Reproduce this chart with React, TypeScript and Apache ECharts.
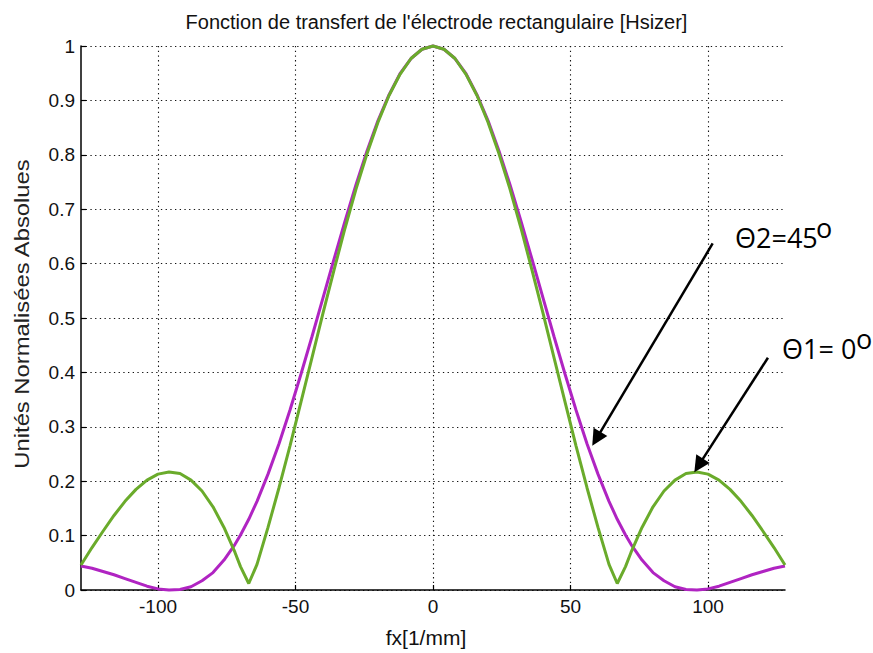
import { useEffect, useRef } from "react";
import * as echarts from "echarts";

const chartTitle = "Fonction de transfert de l'électrode rectangulaire [Hsizer]";
const xAxisTitle = "fx[1/mm]";
const yAxisTitle = "Unités Normalisées Absolues";

// spatial frequency samples [1/mm]
const fx = [
  -128, -124, -120, -116, -112, -108, -104, -100, -96, -92, -88, -84, -80, -76, -72, -70, -67,
  -64, -60, -56, -52, -48, -44, -40, -36, -32, -28, -24, -20, -16, -12, -8, -4,
  0,
  4, 8, 12, 16, 20, 24, 28, 32, 36, 40, 44, 48, 52, 56, 60, 64,
  67, 70, 72, 76, 80, 84, 88, 92, 96, 100, 104, 108, 112, 116, 120, 124, 128,
];

// |H| for theta1 = 0 deg (green)
const hTheta1 = [
  0.046, 0.078, 0.108, 0.137, 0.163, 0.185, 0.202, 0.213, 0.217, 0.214, 0.202, 0.182, 0.153, 0.115, 0.069, 0.043, 0.012,
  0.047, 0.115, 0.188, 0.265, 0.346, 0.427, 0.509, 0.588, 0.665, 0.737, 0.802, 0.86, 0.909, 0.948, 0.977, 0.994,
  1.0,
  0.994, 0.977, 0.948, 0.909, 0.86, 0.802, 0.737, 0.665, 0.588, 0.509, 0.427, 0.346, 0.265, 0.188, 0.115, 0.047,
  0.012, 0.043, 0.069, 0.115, 0.153, 0.182, 0.202, 0.214, 0.217, 0.213, 0.202, 0.185, 0.163, 0.137, 0.108, 0.078, 0.046,
];

// |H| for theta2 = 45 deg (purple)
const hTheta2 = [
  0.044, 0.04, 0.034, 0.028, 0.021, 0.014, 0.007, 0.002, 0.0, 0.001, 0.006, 0.017, 0.032, 0.055, 0.084, 0.101, 0.13,
  0.163, 0.213, 0.269, 0.331, 0.397, 0.466, 0.537, 0.608, 0.678, 0.745, 0.807, 0.863, 0.91, 0.949, 0.977, 0.994,
  1.0,
  0.994, 0.977, 0.949, 0.91, 0.863, 0.807, 0.745, 0.678, 0.608, 0.537, 0.466, 0.397, 0.331, 0.269, 0.213, 0.163,
  0.13, 0.101, 0.084, 0.055, 0.032, 0.017, 0.006, 0.001, 0.0, 0.002, 0.007, 0.014, 0.021, 0.028, 0.034, 0.04, 0.044,
];

const xTicks = [-100, -50, 0, 50, 100];
const xMin = -128;
const xMax = 128;
const yMin = 0;
const yMax = 1;
const yStep = 0.1;

// annotation arrows in data coordinates: [start, tip]
const arrowTheta2 = [[101.7, 0.637], [59.4, 0.278]];
const arrowTheta1 = [[121.8, 0.427], [96.6, 0.229]];

const labelTheta2 = "Θ2=45";
const labelTheta1 = "Θ1= 0";
const degreeMark = "o";

const PURPLE = "#b024c2";
const GREEN = "#6aab2b";
const SANS = "'Liberation Sans', Arial, sans-serif";
const CALLOUT = "'Open Sans', 'Noto Sans', sans-serif";

export default function App() {
  const ref = useRef<HTMLDivElement>(null);

  useEffect(() => {
    if (!ref.current) return;
    const chart = echarts.init(ref.current, undefined, { renderer: "svg" });

    const gridLine = { color: "#111", type: [1.3, 3.4], width: 1.1 };

    chart.setOption({
      animation: false,
      backgroundColor: "#ffffff",
      textStyle: { fontFamily: SANS },
      title: {
        text: chartTitle,
        left: "center",
        top: 12,
        padding: [0, 7, 0, 0],
        textStyle: { fontSize: 20, fontWeight: "normal", color: "#111", fontFamily: SANS },
      },
      grid: { left: 81, right: 88, top: 46, bottom: 59 },
      xAxis: {
        type: "value",
        min: xMin,
        max: xMax,
        name: xAxisTitle,
        nameLocation: "middle",
        nameGap: 37,
        nameTextStyle: { fontSize: 21, color: "#111", fontFamily: SANS, padding: [0, 14, 0, 0] },
        axisLine: { show: true, onZero: false, lineStyle: { color: "#000", width: 1.5 } },
        axisTick: { show: true, inside: true, length: 5, customValues: xTicks, lineStyle: { color: "#000", width: 1.2 } },
        axisLabel: { show: true, customValues: xTicks, margin: 7, fontSize: 19, color: "#111", fontFamily: SANS },
        splitLine: { show: true, lineStyle: gridLine },
      },
      yAxis: {
        type: "value",
        min: yMin,
        max: yMax,
        interval: yStep,
        axisLine: { show: true, onZero: false, lineStyle: { color: "#000", width: 1.5 } },
        axisTick: { show: true, inside: true, length: 5, lineStyle: { color: "#000", width: 1.2 } },
        axisLabel: { show: true, margin: 6, fontSize: 19, color: "#111", fontFamily: SANS },
        splitLine: { show: true, lineStyle: gridLine },
      },
      graphic: [
        {
          type: "text",
          x: 22,
          y: 314,
          rotation: Math.PI / 2,
          scaleX: 1.19,
          style: { text: yAxisTitle, font: `20px ${SANS}`, fill: "#222", align: "center", verticalAlign: "middle" },
        },
        {
          type: "text",
          x: 735,
          y: 237,
          style: { text: labelTheta2, font: `27px ${CALLOUT}`, fill: "#000", align: "left", verticalAlign: "middle" },
        },
        {
          type: "text",
          x: 816,
          y: 227,
          style: { text: degreeMark, font: `27px ${CALLOUT}`, fill: "#000", align: "left", verticalAlign: "middle" },
        },
        {
          type: "text",
          x: 782,
          y: 348,
          style: { text: labelTheta1, font: `27px ${CALLOUT}`, fill: "#000", align: "left", verticalAlign: "middle" },
        },
        {
          type: "text",
          x: 856,
          y: 338,
          style: { text: degreeMark, font: `27px ${CALLOUT}`, fill: "#000", align: "left", verticalAlign: "middle" },
        },
      ],
      series: [
        {
          type: "line",
          name: "θ2 = 45°",
          data: fx.map((x, i) => [x, hTheta2[i]]),
          symbol: "none",
          showSymbol: false,
          clip: false,
          lineStyle: { color: PURPLE, width: 3 },
          z: 2,
        },
        {
          type: "line",
          name: "θ1 = 0°",
          data: fx.map((x, i) => [x, hTheta1[i]]),
          symbol: "none",
          showSymbol: false,
          clip: false,
          lineStyle: { color: GREEN, width: 3 },
          z: 3,
          markLine: {
            silent: true,
            symbol: ["none", "triangle"],
            symbolSize: 16,
            label: { show: false },
            emphasis: { disabled: true },
            itemStyle: { color: "#000" },
            lineStyle: { color: "#000", width: 2.5, type: "solid" },
            data: [
              [{ coord: arrowTheta2[0] }, { coord: arrowTheta2[1] }],
              [{ coord: arrowTheta1[0] }, { coord: arrowTheta1[1] }],
            ],
          },
        },
      ],
    });

    return () => chart.dispose();
  }, []);

  return (
    <div
      ref={ref}
      style={{ position: "absolute", left: 0, top: 0, width: 873, height: 653, background: "#fff" }}
    />
  );
}
